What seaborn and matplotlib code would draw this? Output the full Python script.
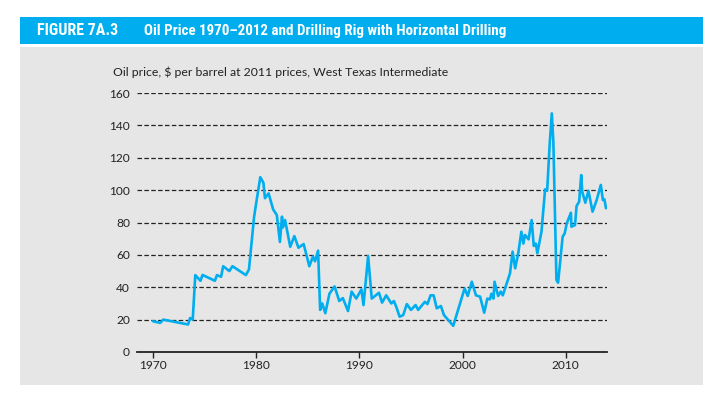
import matplotlib
matplotlib.use("Agg")
import matplotlib.pyplot as plt
import seaborn as sns
import pandas as pd
from matplotlib.patches import Rectangle

# Dados (ano, preco em US$ de 2011)
anos = [1970.0, 1970.7, 1971.0, 1972.2, 1973.4, 1973.6, 1973.85, 1974.1, 1974.6, 1974.8,
        1976.0, 1976.2, 1976.6, 1976.8, 1977.4, 1977.7, 1979.0, 1979.3, 1979.8, 1980.05,
        1980.4, 1980.7, 1980.85, 1981.2, 1981.65, 1982.0, 1982.3, 1982.5, 1982.6, 1982.8,
        1983.3, 1983.7, 1984.1, 1984.6, 1985.15, 1985.5, 1985.7, 1986.0, 1986.2, 1986.4,
        1986.7, 1987.1, 1987.6, 1988.05, 1988.4, 1988.9, 1989.25, 1989.7, 1990.2, 1990.4,
        1990.85, 1991.2, 1991.9, 1992.2, 1992.6, 1993.1, 1993.35, 1993.6, 1993.9, 1994.25,
        1994.6, 1995.0, 1995.45, 1995.7, 1996.35, 1996.6, 1996.9, 1997.2, 1997.5, 1997.9,
        1998.2, 1999.1, 2000.2, 2000.5, 2000.9, 2001.3, 2001.7, 2002.1, 2002.4, 2002.65,
        2002.8, 2003.0, 2003.1, 2003.45, 2003.7, 2003.9, 2004.6, 2004.85, 2005.1, 2005.4,
        2005.7, 2005.9, 2006.05, 2006.4, 2006.7, 2006.9, 2007.1, 2007.25, 2007.65, 2008.0,
        2008.2, 2008.45, 2008.65, 2008.8, 2009.1, 2009.26, 2009.7, 2009.9, 2010.1, 2010.5,
        2010.55, 2010.9, 2011.05, 2011.3, 2011.5, 2011.6, 2011.9, 2012.2, 2012.6, 2013.0,
        2013.4, 2013.6, 2013.75, 2013.9]
precos = [19, 18, 20, 18.5, 17, 21, 20, 47.5, 44, 47.6,
          44, 47.5, 46.5, 53, 50, 53, 47.5, 51, 83.6, 94,
          108, 104.6, 95, 98, 88, 84.6, 68, 83.6, 77, 81.5,
          65, 71.6, 64.4, 66.7, 53, 59, 56, 62.6, 26, 30,
          24, 36, 40.5, 31.5, 33.3, 25.3, 37.3, 33, 38.7, 29,
          59.3, 33, 36.6, 30.5, 35, 30, 31.5, 27.5, 21.8, 22.8,
          29.6, 26, 29, 26, 31, 29.6, 35, 35, 27, 28.4,
          22.8, 16.2, 39.3, 34.6, 43.4, 35, 34.2, 24.3, 33, 32.5,
          36, 33, 43.4, 34.6, 37.3, 35, 48.6, 62, 51.7, 61,
          74.3, 67, 72.3, 69.6, 81.5, 65.5, 67, 61, 74.3, 100.5,
          99.6, 129, 147.4, 130, 44.5, 42.8, 71.2, 73.3, 79.5, 86,
          77.4, 78.4, 90.2, 92.8, 109.3, 99, 92.2, 99.6, 86.7, 93.9,
          103.2, 93.9, 94.3, 88.8]

anos_ticks = [1970, 1980, 1990, 2000, 2010]
precos_ticks = [0, 20, 40, 60, 80, 100, 120, 140, 160]

titulo_num = "FIGURE 7A.3"
titulo = "Oil Price 1970\u20132012 and Drilling Rig with Horizontal Drilling"
rotulo_y = "Oil price, $ per barrel at 2011 prices, West Texas Intermediate"

df = pd.DataFrame({"ano": anos, "preco": precos})

sns.set_style("white")
plt.rcParams['font.family'] = ['Lato', 'DejaVu Sans']

fig = plt.figure(figsize=(7.15, 3.98), dpi=100)
fig.patch.set_facecolor("white")

W, H = 715, 398
# faixa azul do titulo e painel cinza
fig.patches.append(Rectangle((20 / W, 1 - 44 / H), 683 / W, 27 / H, transform=fig.transFigure,
                             facecolor="#00aeef", edgecolor="none", zorder=-5))
fig.patches.append(Rectangle((20 / W, 1 - 385 / H), 683 / W, 338 / H, transform=fig.transFigure,
                             facecolor="#e6e6e6", edgecolor="none", zorder=-5))

fonte_titulo = ['Roboto Condensed', 'Roboto', 'DejaVu Sans']
fig.text(37 / W, 1 - 30.5 / H, titulo_num, color="white", fontsize=11.5, fontweight="bold",
         family=fonte_titulo, va="center", ha="left")
fig.text(144 / W, 1 - 30.5 / H, titulo, color="white", fontsize=10.8, fontweight="bold",
         family=fonte_titulo, va="center", ha="left")

ax = fig.add_axes([137 / W, 1 - 352 / H, 470 / W, 259 / H])
ax.set_facecolor("none")
ax.set_zorder(2)

sns.lineplot(data=df, x="ano", y="preco", ax=ax, color="#00aeef", linewidth=1.9,
             estimator=None, sort=False, zorder=3)

ax.set_xlim(1968.45, 2014.0)
ax.set_ylim(0, 160)
ax.set_xticks(anos_ticks)
ax.set_yticks(precos_ticks)
ax.set_xlabel("")
ax.set_ylabel("")

for v in precos_ticks[1:]:
    ax.axhline(v, color="#222222", linestyle=(0, (3.6, 1.9)), linewidth=0.9, zorder=1)

for s in ["top", "right", "left"]:
    ax.spines[s].set_visible(False)
ax.spines["bottom"].set_color("#222222")
ax.spines["bottom"].set_linewidth(1.3)

ax.tick_params(axis="x", direction="out", length=4, width=1, color="#222222",
               labelsize=8.6, pad=1.5, labelcolor="#222222", bottom=True)
ax.tick_params(axis="y", length=0, labelsize=8.6, pad=5, labelcolor="#222222")

fig.text(113 / W, 1 - 72 / H, rotulo_y, fontsize=8.8, color="#222222", va="center", ha="left")

fig.savefig("out.png", dpi=100)
